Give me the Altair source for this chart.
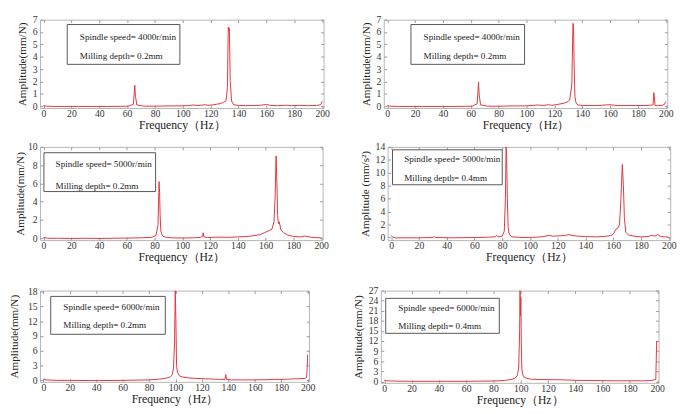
import altair as alt
import pandas as pd

FONT = "Liberation Serif"
RED = "#e3343c"

# ---------------- data ----------------
x_ticks = [0, 20, 40, 60, 80, 100, 120, 140, 160, 180, 200]
x_title = "Frequency（Hz）"

p1_freq = [0, 2, 8, 15, 25, 35, 45, 55, 61, 64.5,
           65, 65.5, 66, 67, 72, 80, 90, 100, 104, 108,
           110, 113, 116, 118, 121, 124, 127, 129, 131, 132,
           132.6, 133, 133.4, 134, 135, 136.5, 140, 145, 150, 155,
           160, 163, 168, 174, 178, 184, 190, 196, 199, 200]
p1_amp = [0.05, 0.0, -0.02, -0.02, -0.02, -0.02, -0.02, -0.01, 0.0, 0.15,
          0.9, 1.7, 0.8, 0.1, 0.0, 0.0, 0.02, 0.03, 0.05, 0.1,
          0.05, 0.08, 0.12, 0.07, 0.1, 0.15, 0.22, 0.3, 0.45, 1.5,
          6.4, 6.1, 6.3, 2.0, 0.4, 0.12, 0.06, 0.05, 0.05, 0.07,
          0.14, 0.06, 0.04, 0.08, 0.04, 0.07, 0.04, 0.06, 0.12, 0.4]
p1_yticks = [0, 1, 2, 3, 4, 5, 6, 7]
p1_text = ["Spindle speed= 4000r/min", "Milling depth= 0.2mm"]

p2_freq = [0, 2, 8, 15, 25, 35, 45, 55, 61, 64.5,
           65, 65.5, 66, 67, 72, 80, 90, 100, 105, 108,
           112, 116, 118, 121, 124, 127, 129, 131, 132.5, 133.3,
           133.7, 134.1, 134.7, 135.5, 137, 140, 150, 160, 165, 175,
           185, 190.8, 191.3, 191.7, 192.2, 194, 197, 199, 199.6, 200]
p2_amp = [0.05, 0.0, -0.02, -0.02, -0.02, -0.02, -0.02, -0.01, 0.0, 0.2,
          1.0, 1.95, 0.9, 0.1, 0.0, 0.0, 0.02, 0.03, 0.06, 0.1,
          0.06, 0.12, 0.07, 0.12, 0.18, 0.25, 0.32, 0.5, 1.8, 6.7,
          6.5, 3.5, 0.8, 0.25, 0.1, 0.06, 0.05, 0.12, 0.05, 0.06,
          0.05, 0.1, 1.1, 0.8, 0.05, 0.04, 0.06, 0.15, 0.3, 0.4]
p2_yticks = [0, 1, 2, 3, 4, 5, 6, 7]
p2_text = ["Spindle speed= 4000r/min", "Milling depth= 0.2mm"]

p3_freq = [0, 3, 10, 20, 30, 40, 50, 60, 70, 78,
           81, 82.5, 83.2, 83.6, 84, 84.5, 85.5, 87, 92, 100,
           108, 113, 114.5, 115, 115.5, 118, 125, 132, 140, 147,
           152, 156, 159, 162, 164.5, 166, 166.8, 167.5, 168.1, 168.6,
           169.2, 169.8, 171, 173, 176, 180, 185, 188, 194, 200]
p3_amp = [0.1, 0.0, 0.0, -0.02, 0.0, -0.02, 0.0, 0.02, 0.05, 0.1,
          0.3, 1.5, 6.2, 5.0, 2.5, 0.8, 0.3, 0.15, 0.05, 0.03,
          0.05, 0.1, 0.2, 0.6, 0.15, 0.08, 0.12, 0.1, 0.15, 0.2,
          0.3, 0.4, 0.6, 0.8, 1.0, 1.8, 4.5, 9.0, 6.0, 2.5,
          1.6, 1.8, 0.9, 0.6, 0.35, 0.2, 0.15, 0.25, 0.08, 0.05]
p3_yticks = [0, 2, 4, 6, 8, 10]
p3_text = ["Spindle speed= 5000r/min", "Milling depth= 0.2mm"]

p4_freq = [0, 1, 3, 10, 20, 30, 31, 32, 45, 60,
           70, 75, 76, 77, 80, 81.5, 82.3, 82.8, 83.2, 83.7,
           84.3, 85, 87, 95, 105, 110, 114, 116, 120, 125,
           128, 131, 135, 140, 148, 155, 158, 160, 162, 163.5,
           164.5, 165.5, 166.5, 167.3, 168, 169, 171, 175, 180, 185,
           188, 190, 192, 194, 197, 200]
p4_amp = [0.3, 0.1, -0.05, -0.05, -0.05, 0.0, 0.15, 0.0, -0.05, 0.0,
          0.05, 0.1, 0.35, 0.1, 0.2, 1.0, 6.0, 14.0, 12.5, 6.0,
          1.5, 0.5, 0.1, 0.0, 0.05, 0.15, 0.35, 0.2, 0.25, 0.3,
          0.45, 0.3, 0.2, 0.15, 0.1, 0.2, 0.3, 0.5, 1.3, 1.5,
          2.0, 6.0, 11.3, 8.0, 3.0, 0.8, 0.4, 0.2, 0.1, 0.15,
          0.35, 0.2, 0.45, 0.15, 0.1, 0.05]
p4_yticks = [0, 2, 4, 6, 8, 10, 12, 14]
p4_text = ["Spindle speed= 5000r/min", "Milling depth= 0.4mm"]

p5_freq = [0, 2, 10, 20, 40, 60, 70, 80, 88, 93,
           96, 97.5, 98.5, 99.3, 99.8, 100.3, 100.8, 101.5, 103, 105,
           110, 115, 120, 125, 130, 134, 137.4, 138, 138.6, 142,
           150, 160, 170, 175, 180, 185, 190, 195, 198, 199.2,
           199.7, 200]
p5_amp = [0.3, 0.1, 0.0, 0.0, -0.05, 0.0, 0.05, 0.1, 0.25, 0.45,
          0.7, 1.1, 2.5, 8.0, 18.2, 12.0, 3.0, 1.6, 0.9, 0.7,
          0.5, 0.4, 0.35, 0.3, 0.25, 0.2, 0.2, 1.2, 0.2, 0.1,
          0.1, 0.1, 0.15, 0.2, 0.2, 0.25, 0.3, 0.35, 0.4, 0.6,
          3.0, 5.2]
p5_yticks = [0, 3, 6, 9, 12, 15, 18]
p5_text = ["Spindle speed= 6000r/min", "Milling depth= 0.2mm"]

p6_freq = [0, 2, 10, 20, 40, 60, 70, 80, 88, 93,
           96, 97.5, 98.5, 99.2, 99.5, 99.8, 100.1, 100.4, 100.8, 101.5,
           102.5, 104, 107, 112, 120, 130, 140, 150, 160, 170,
           180, 190, 196, 199, 199.6, 200]
p6_amp = [0.4, 0.2, 0.1, 0.05, 0.05, 0.05, 0.1, 0.15, 0.3, 0.6,
          1.0, 1.8, 4.0, 15.0, 27.0, 19.5, 25.0, 12.0, 4.0, 2.0,
          1.3, 1.0, 0.7, 0.6, 0.55, 0.5, 0.35, 0.3, 0.25, 0.2,
          0.2, 0.2, 0.3, 0.6, 12.0, 12.0]
p6_yticks = [0, 3, 6, 9, 12, 15, 18, 21, 24, 27]
p6_text = ["Spindle speed= 6000r/min", "Milling depth= 0.4mm"]


def panel(freq, amp, yticks, ydomain, ytitle, texts, box, tx, ty, w, h, tpad):
    df = pd.DataFrame({"f": freq, "a": amp})
    one = pd.DataFrame({"k": [0]})
    xsc = alt.Scale(domain=[-2.5, 201], nice=False, zero=False)
    ysc = alt.Scale(domain=ydomain, nice=False, zero=False)
    line = alt.Chart(df).mark_line(color=RED, strokeWidth=1, clip=True).encode(
        x=alt.X("f:Q", scale=xsc,
                axis=alt.Axis(orient="bottom", values=x_ticks, title=x_title,
                              offset=-3, tickSize=3, labelPadding=1,
                              domain=False, grid=False, titlePadding=1,
                              titleFontSize=12, labelOverlap=False)),
        y=alt.Y("a:Q", scale=ysc,
                axis=alt.Axis(orient="left", values=yticks, title=ytitle,
                              offset=-3, tickSize=3, labelPadding=3,
                              domain=False, grid=False, titlePadding=tpad,
                              titleFontSize=11.5, labelOverlap=False)),
    )
    mirror = alt.Chart(df).mark_point(opacity=0, size=1).encode(
        x=alt.X("f:Q", scale=xsc,
                axis=alt.Axis(orient="top", values=x_ticks, title=None, labels=False,
                              offset=-3, tickSize=3, domain=False, grid=False)),
        y=alt.Y("a:Q", scale=ysc,
                axis=alt.Axis(orient="right", values=yticks, title=None, labels=False,
                              offset=-3, tickSize=3, domain=False, grid=False)),
    )
    rect = alt.Chart(one).mark_rect(fill="white", stroke="#555555", strokeWidth=1).encode(
        x=alt.value(box[0]), x2=alt.value(box[1]), y=alt.value(box[2]), y2=alt.value(box[3])
    )
    t1 = alt.Chart(one).mark_text(align="left", baseline="middle", font=FONT,
                                  fontSize=9.4, color="#222222").encode(
        x=alt.value(tx), y=alt.value(ty[0]), text=alt.value(texts[0]))
    t2 = alt.Chart(one).mark_text(align="left", baseline="middle", font=FONT,
                                  fontSize=9.4, color="#222222").encode(
        x=alt.value(tx), y=alt.value(ty[1]), text=alt.value(texts[1]))
    return alt.layer(line, mirror, rect, t1, t2).resolve_axis(
        x="independent", y="independent").properties(width=w, height=h)


c1 = panel(p1_freq, p1_amp, p1_yticks, [-0.15, 7], "Amplitude(mm/N)", p1_text,
           (28, 144, 5, 46), 41, (18, 38), 292, 91, 5)
c2 = panel(p2_freq, p2_amp, p2_yticks, [-0.15, 7], "Amplitude(mm/N)", p2_text,
           (28, 145, 5, 46), 41, (18, 38), 292, 91, 5)
c3 = panel(p3_freq, p3_amp, p3_yticks, [-0.2, 10], "Amplitude(mm/N)", p3_text,
           (4, 119, 6, 46), 16, (18, 40), 291, 96, 2)
c4 = panel(p4_freq, p4_amp, p4_yticks, [-0.4, 14], "Amplitude (mm/s²)", p4_text,
           (5, 118, 3, 39), 17, (13, 32), 291, 96, 5)
c5 = panel(p5_freq, p5_amp, p5_yticks, [-0.3, 18.2], "Amplitude(mm/N)", p5_text,
           (11, 129, 6, 45), 24, (17, 36), 277, 94, 8)
c6 = panel(p6_freq, p6_amp, p6_yticks, [-0.4, 27], "Amplitude(mm/N)", p6_text,
           (5, 122, 8, 44), 18, (18, 37), 286, 95, 5)

row1 = alt.hconcat(c1, c2, spacing=30)
row2 = alt.hconcat(c3, c4, spacing=30)
row3 = alt.hconcat(c5, c6, spacing=37)

top_rows = alt.vconcat(row1, row2, spacing=10)

chart = alt.vconcat(top_rows, row3, spacing=22).properties(
    padding={"left": 0, "top": 0, "right": 0, "bottom": 0}
).configure_view(
    stroke="#b5b5b5", strokeWidth=1
).configure_axis(
    labelFont=FONT, titleFont=FONT, labelFontSize=10,
    labelColor="#333333", titleColor="#222222", tickColor="#999999",
    titleFontWeight="normal"
)

chart.save("out.html", embed_options={"renderer": "svg", "actions": False})
